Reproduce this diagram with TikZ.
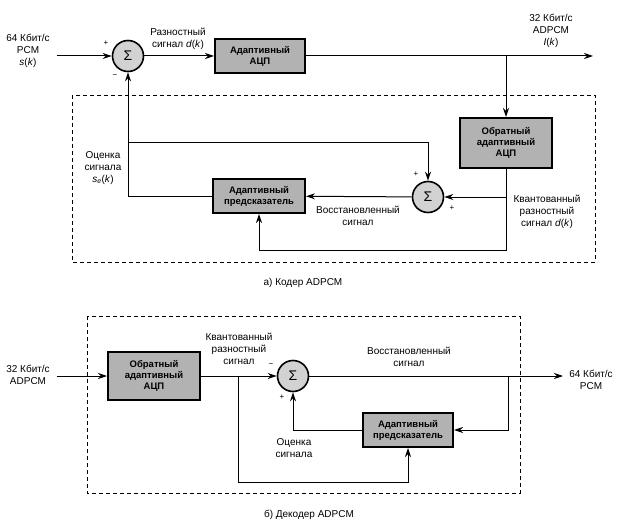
\documentclass[tikz,border=0pt]{standalone}
\usepackage{fontspec}
\setmainfont{Liberation Sans}
\usetikzlibrary{arrows.meta, positioning}

\begin{document}
\begin{tikzpicture}[x=1pt, y=-1pt, line width=1pt, >={Stealth[length=9pt,width=6pt]},
        font=\fontsize{10}{12}\selectfont,
        block/.style={rectangle, draw, line width=2pt, fill=gray!60, align=center, inner sep=1pt, font=\fontsize{9.5}{11}\selectfont\bfseries},
        summer/.style={circle, draw, line width=1.6pt, fill=gray!35, minimum size=31pt, inner sep=0pt, font=\fontsize{14}{14}\selectfont},
        lbl/.style={align=center, inner sep=0pt},
        sgn/.style={inner sep=0pt, font=\fontsize{8}{8}\selectfont},
        frame/.style={draw, line width=0.8pt, dash pattern=on 4pt off 3pt}]
    \useasboundingbox (0,0) rectangle (632,532);

    % a) coder
    \draw[frame] (72,95) rectangle (595,262);
    \coordinate (in1) at (57,56);
    \coordinate (out1) at (593,56);
    \node[summer] (sum1) at (128,56) {Σ};
    \node[block, minimum width=90pt, minimum height=34pt] (adc) at (260,56) {Адаптивный\\АЦП};
    \node[block, minimum width=92pt, minimum height=50pt] (iadc) at (506,143) {Обратный\\адаптивный\\АЦП};
    \node[summer] (sum2) at (428,197) {Σ};
    \node[block, minimum width=92pt, minimum height=34pt] (pred1) at (259,196) {Адаптивный\\предсказатель};
    \coordinate (fb1) at (506,250);
    \coordinate (est1) at (128,143);

    \draw[->] (in1) -- (sum1);
    \draw[->] (sum1) -- (adc);
    \draw[->] (adc) -- (out1);
    \draw[->] (adc.east -| iadc) -- (iadc);
    \draw[->] (iadc) -- (fb1) -| (pred1);
    \draw[->] (sum2.east -| iadc) -- (sum2);
    \draw[->] (sum2) -- (pred1);
    \draw[->] (pred1.west) -| (sum1.south);
    \draw[->] (est1) -| (sum2.north);

    \node[lbl] (inlbl1) at (28,51) {64 Кбит/с\\PCM\\\textit{s}(\textit{k})};
    \node[lbl] (dlbl) at (178,39) {Разностный\\сигнал \textit{d}(\textit{k})};
    \node[lbl] (outlbl1) at (551,31) {32 Кбит/с\\ADPCM\\\textit{I}(\textit{k})};
    \node[lbl] (estlbl1) at (103,168) {Оценка\\сигнала\\\textit{s}\textsubscript{\textit{e}}(\textit{k})};
    \node[lbl] (reclbl1) at (358,216) {Восстановленный\\сигнал};
    \node[lbl] (qlbl1) at (547,212) {Квантованный\\разностный\\сигнал \textit{d}(\textit{k})};
    \node[sgn] (p1) at (106,43) {+};
    \node[sgn] (m1) at (115,76) {\textminus};
    \node[sgn] (p2) at (416,174) {+};
    \node[sgn] (p3) at (452,208) {+};
    \node[lbl] (capa) at (303,283) {а) Кодер ADPCM};

    % b) decoder
    \draw[frame] (87,316) rectangle (520,493);
    \coordinate (in2) at (57,376);
    \coordinate (out2) at (563,376);
    \node[block, minimum width=92pt, minimum height=48pt] (iadc2) at (154,376) {Обратный\\адаптивный\\АЦП};
    \node[summer] (sum3) at (293,376) {Σ};
    \node[block, minimum width=90pt, minimum height=34pt] (pred2) at (408,430) {Адаптивный\\предсказатель};
    \coordinate (br2) at (508,376);
    \coordinate (q2) at (238,376);
    \coordinate (fb2) at (238,482);

    \draw[->] (in2) -- (iadc2);
    \draw[->] (iadc2) -- (sum3);
    \draw[->] (sum3) -- (out2);
    \draw[->] (br2) |- (pred2.east);
    \draw[->] (pred2.west) -| (sum3.south);
    \draw[->] (q2) -- (fb2) -| (pred2.south);

    \node[lbl] (inlbl2) at (28,375) {32 Кбит/с\\ADPCM};
    \node[lbl] (qlbl2) at (239,349) {Квантованный\\разностный\\сигнал};
    \node[lbl] (reclbl2) at (409,357) {Восстановленный\\сигнал};
    \node[lbl] (outlbl2) at (591,380) {64 Кбит/с\\PCM};
    \node[lbl] (estlbl2) at (294,448) {Оценка\\сигнала};
    \node[sgn] (m3) at (271,365) {\textminus};
    \node[sgn] (p4) at (282,397) {+};
    \node[lbl] (capb) at (309,515) {б) Декодер ADPCM};
\end{tikzpicture}
\end{document}
